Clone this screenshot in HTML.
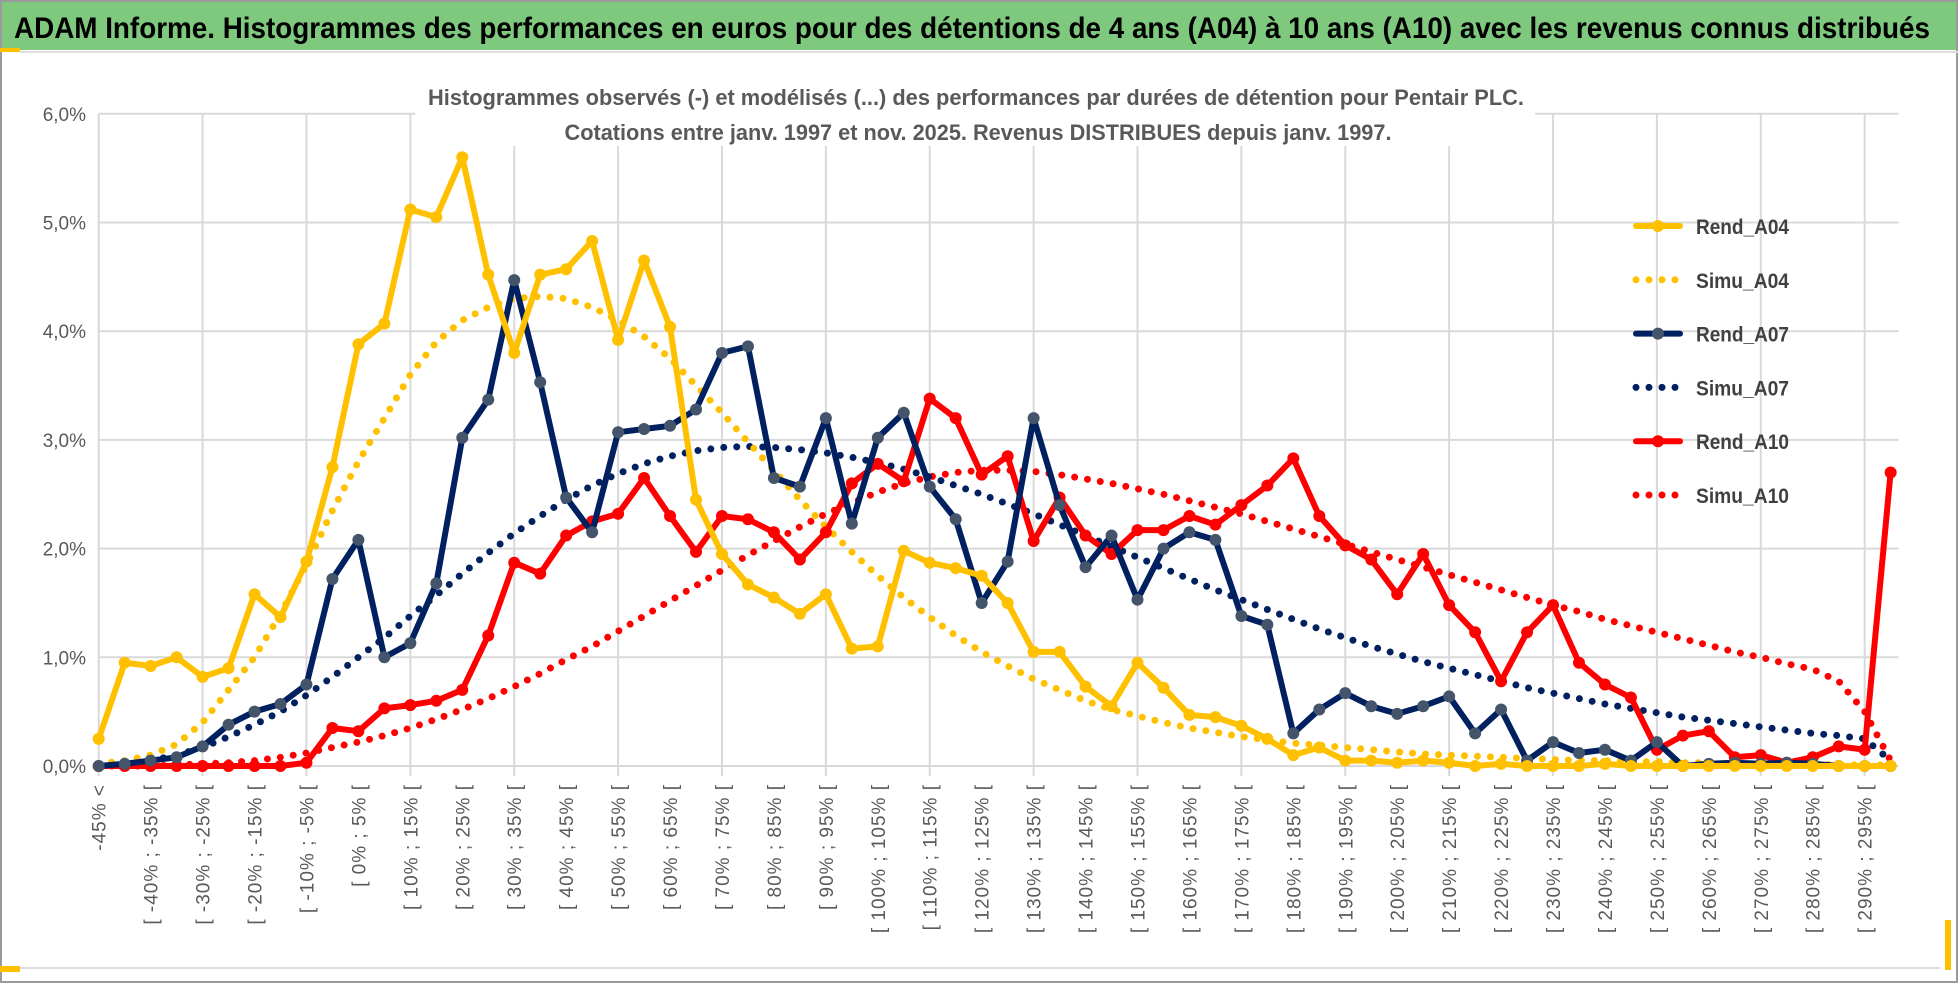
<!DOCTYPE html>
<html><head><meta charset="utf-8"><style>
html,body{margin:0;padding:0;background:#fff;}
svg{display:block;font-family:"Liberation Sans",sans-serif;}
</style></head><body>
<svg id="chart" width="1958" height="983" viewBox="0 0 1958 983">
<rect x="0" y="0" width="1958" height="983" fill="#fff"/>
<rect x="1" y="1" width="1956" height="981" fill="none" stroke="#9a9a9a" stroke-width="2"/>
<rect x="2" y="2" width="1954" height="48" fill="#7fc97f"/>
<rect x="0" y="48" width="20" height="4" fill="#ffc000"/>
<line x1="20" y1="52" x2="1958" y2="52" stroke="#ddd" stroke-width="2"/>
<text x="14" y="38" font-size="30" font-weight="bold" fill="#000" textLength="1916" lengthAdjust="spacingAndGlyphs">ADAM Informe. Histogrammes des performances en euros pour des détentions de 4 ans (A04) à 10 ans (A10) avec les revenus connus distribués</text>
<g id="grid"></g>
<rect x="415" y="80" width="1120" height="66" fill="#fff"/>
<text x="976" y="105" font-size="22" font-weight="bold" fill="#595959" text-anchor="middle" textLength="1096" lengthAdjust="spacingAndGlyphs">Histogrammes observés (-) et modélisés (...) des performances par durées de détention pour Pentair PLC.</text>
<text x="978" y="140" font-size="22" font-weight="bold" fill="#595959" text-anchor="middle" textLength="827" lengthAdjust="spacingAndGlyphs">Cotations entre janv. 1997 et nov. 2025. Revenus DISTRIBUES depuis janv. 1997.</text>
<g id="series"></g>
<g id="legend"></g>
<line x1="20" y1="968" x2="1940" y2="968" stroke="#ddd" stroke-width="2"/>
<rect x="0" y="966" width="20" height="6" fill="#ffc000"/>
<rect x="1945" y="920" width="6" height="50" fill="#ffc000"/>
</svg>
<script>
const yTicks = [0,1,2,3,4,5,6];
const rendA04 = [0.25,0.95,0.92,1.0,0.82,0.9,1.58,1.37,1.88,2.75,3.88,4.07,5.12,5.05,5.6,4.52,3.8,4.52,4.57,4.83,3.92,4.65,4.04,2.45,1.95,1.67,1.55,1.40,1.58,1.08,1.1,1.98,1.87,1.82,1.75,1.5,1.05,1.05,0.73,0.55,0.95,0.72,0.47,0.45,0.37,0.25,0.1,0.17,0.05,0.05,0.03,0.05,0.03,0.0,0.02,0.0,0.0,0.0,0.02,0.0,0.0,0.0,0.0,0.0,0.0,0.0,0.0,0.0,0.0,0.0];
const simuA04 = [0.02,0.05,0.1,0.2,0.4,0.7,1.0,1.4,1.85,2.35,2.8,3.2,3.6,3.9,4.1,4.22,4.3,4.32,4.3,4.22,4.1,3.95,3.75,3.5,3.25,2.98,2.72,2.45,2.2,1.97,1.75,1.55,1.37,1.2,1.05,0.92,0.8,0.7,0.6,0.52,0.46,0.4,0.35,0.31,0.27,0.24,0.21,0.19,0.17,0.15,0.13,0.11,0.1,0.09,0.08,0.07,0.06,0.05,0.05,0.04,0.04,0.03,0.03,0.02,0.02,0.02,0.02,0.01,0.01,0.01];
const rendA07 = [0,0.02,0.05,0.08,0.18,0.38,0.5,0.57,0.75,1.72,2.08,1.0,1.13,1.68,3.02,3.37,4.47,3.53,2.47,2.15,3.07,3.1,3.13,3.28,3.8,3.86,2.65,2.57,3.2,2.23,3.02,3.25,2.57,2.27,1.5,1.88,3.2,2.4,1.83,2.12,1.53,2.0,2.15,2.08,1.38,1.3,0.3,0.52,0.67,0.55,0.48,0.55,0.64,0.3,0.52,0.05,0.22,0.12,0.15,0.05,0.22,0,0.02,0.03,0.02,0.03,0.02,0,0,0];
const simuA07 = [0.02,0.03,0.05,0.1,0.17,0.27,0.38,0.5,0.65,0.82,1.0,1.18,1.38,1.57,1.77,1.96,2.14,2.3,2.45,2.58,2.69,2.78,2.85,2.9,2.93,2.94,2.93,2.91,2.88,2.84,2.79,2.73,2.66,2.58,2.5,2.41,2.32,2.22,2.12,2.02,1.92,1.82,1.72,1.62,1.53,1.44,1.35,1.26,1.18,1.1,1.03,0.96,0.9,0.84,0.78,0.72,0.67,0.62,0.57,0.53,0.49,0.45,0.42,0.39,0.36,0.33,0.3,0.28,0.25,0.05];
const rendA10 = [0,0,0,0,0,0,0,0,0.03,0.35,0.32,0.53,0.56,0.6,0.7,1.2,1.87,1.77,2.12,2.25,2.32,2.65,2.3,1.97,2.3,2.27,2.15,1.9,2.15,2.6,2.78,2.62,3.38,3.2,2.68,2.85,2.07,2.47,2.12,1.95,2.17,2.17,2.3,2.22,2.4,2.58,2.83,2.3,2.03,1.9,1.58,1.95,1.48,1.23,0.78,1.23,1.48,0.95,0.75,0.63,0.15,0.28,0.32,0.08,0.1,0.03,0.08,0.18,0.15,2.7];
const simuA10 = [0,0,0,0.01,0.02,0.03,0.05,0.08,0.12,0.17,0.22,0.28,0.35,0.43,0.52,0.62,0.73,0.85,0.98,1.1,1.24,1.38,1.52,1.66,1.8,1.94,2.07,2.2,2.32,2.42,2.52,2.6,2.66,2.7,2.72,2.72,2.71,2.68,2.64,2.6,2.55,2.5,2.44,2.38,2.32,2.25,2.18,2.11,2.04,1.97,1.9,1.83,1.76,1.69,1.62,1.55,1.48,1.42,1.35,1.29,1.23,1.17,1.11,1.05,1.0,0.94,0.89,0.78,0.5,0.05];
const seriesNames = ["Rend_A04","Simu_A04","Rend_A07","Simu_A07","Rend_A10","Simu_A10"];

const N = rendA04.length;
const X0 = 98.7, XSTEP = 25.97, Y0 = 766, YPER = 108.7;
const xs = i => X0 + i*XSTEP;
const ys = v => Y0 - v*YPER;
function catLabel(i){ if(i===0) return "-45% <"; const lo=-50+5*i; return "[ "+lo+"% ; "+(lo+5)+"% ["; }
const NS="http://www.w3.org/2000/svg";
function mk(tag, attrs, parent){ const e=document.createElementNS(NS,tag); for(const k in attrs) e.setAttribute(k,attrs[k]); parent.appendChild(e); return e; }
const grid=document.getElementById('grid');
yTicks.forEach(t=>{
  const l=mk('line',{x1:xs(0),x2:xs(N-1)+8,y1:ys(t),y2:ys(t),stroke:'#d9d9d9','stroke-width':2},grid);
  
  
  const tx=mk('text',{x:86,y:ys(t)+7,'font-size':19,fill:'#595959','text-anchor':'end'},grid);
  tx.textContent=t.toFixed(1).replace('.',',')+'%';
  
  
});
for(let i=0;i<N;i+=4){
  const l=mk('line',{x1:xs(i),x2:xs(i),y1:ys(6),y2:Y0+10,stroke:'#d9d9d9','stroke-width':2},grid);
  
  
}
for(let i=0;i<N;i+=2){
  const x=xs(i)+7, y=784;
  const tx=mk('text',{x:x,y:y,'font-size':19,fill:'#595959','text-anchor':'end',transform:`rotate(-90 ${x} ${y})`,'letter-spacing':'1'},grid);
  tx.textContent=catLabel(i);
  
  
}
const sg=document.getElementById('series');
const defs=[
  {name:'simu-a10',data:simuA10,color:'#ff0000',dot:true},
  {name:'simu-a07',data:simuA07,color:'#002060',dot:true},
  {name:'simu-a04',data:simuA04,color:'#ffc000',dot:true},
  {name:'rend-a10',data:rendA10,color:'#ff0000',mcol:'#ff0000'},
  {name:'rend-a07',data:rendA07,color:'#002060',mcol:'#44546a'},
  {name:'rend-a04',data:rendA04,color:'#ffc000',mcol:'#ffc000'}
];
defs.forEach(s=>{
  const pts=s.data.map((v,i)=>xs(i).toFixed(1)+','+ys(v).toFixed(1)).join(' ');
  const g=mk('g',{},sg);
  
  
  const attrs={points:pts,fill:'none',stroke:s.color,'stroke-width':s.dot?7:6,'stroke-linejoin':'round','stroke-linecap':'round'};
  if(s.dot) attrs['stroke-dasharray']='0 13';
  const pl=mk('polyline',attrs,g);
  
  
  if(!s.dot){
    s.data.forEach((v,i)=>{
      const c=mk('circle',{cx:xs(i),cy:ys(v),r:6,fill:s.mcol},g);
      
      
    });
  }
});
const lg=document.getElementById('legend');
const lcol=['#ffc000','#ffc000','#002060','#002060','#ff0000','#ff0000'];
seriesNames.forEach((n,k)=>{
  const y=226+k*53.8;
  const g=mk('g',{},lg);
  
  
  const dot=k%2===1;
  const la={x1:1636,x2:1680,y1:y,y2:y,stroke:lcol[k],'stroke-width':dot?7:6,'stroke-linecap':'round'};
  if(dot) la['stroke-dasharray']='0 13';
  mk('line',la,g);
  if(!dot) mk('circle',{cx:1658,cy:y,r:6,fill:k===2?'#44546a':lcol[k]},g);
  const t=mk('text',{x:1696,y:y+8,'font-size':21,'font-weight':'bold',fill:'#404040',textLength:93,lengthAdjust:'spacingAndGlyphs'},g);
  t.textContent=n;
});
</script>
</body></html>
